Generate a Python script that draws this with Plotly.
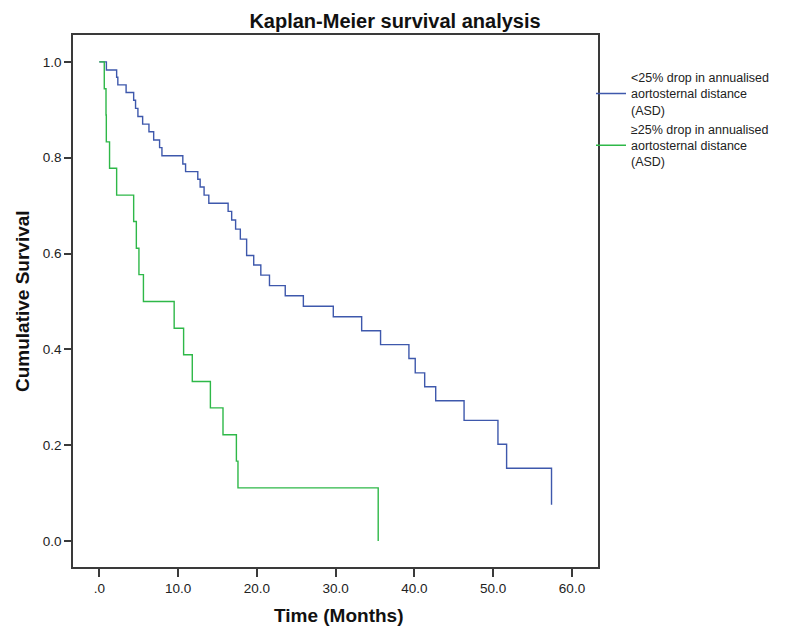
import plotly.graph_objects as go

# ---- data ----
blue_name = "&lt;25% drop in annualised<br>aortosternal distance<br>(ASD)"
green_name = "≥25% drop in annualised<br>aortosternal distance<br>(ASD)"

blue_time = [0, 0.9, 2.2, 2.35, 3.4, 4.36, 4.6, 4.9, 5.5, 6.3,
             6.9, 7.65, 7.95, 10.6, 10.95, 12.5, 12.8, 13.3, 13.9, 16.35,
             16.8, 17.3, 17.9, 18.7, 19.6, 20.5, 21.6, 23.6, 25.9, 29.7,
             33.3, 35.7, 39.3, 40.1, 41.3, 42.7, 46.3, 50.6, 51.7, 57.4]
blue_surv = [1.0, 0.983, 0.968, 0.952, 0.936, 0.920, 0.903, 0.886, 0.870, 0.854,
             0.837, 0.821, 0.804, 0.787, 0.771, 0.755, 0.739, 0.722, 0.705, 0.688,
             0.670, 0.651, 0.630, 0.596, 0.576, 0.555, 0.533, 0.512, 0.490, 0.468,
             0.439, 0.410, 0.381, 0.351, 0.322, 0.293, 0.252, 0.202, 0.152, 0.076]

green_time = [0, 0.63, 0.85, 0.89, 1.3, 2.2, 4.36, 4.7, 5.03, 5.6,
              9.5, 10.7, 11.8, 14.1, 15.7, 17.4, 17.6, 35.4]
green_surv = [1.0, 0.944, 0.889, 0.833, 0.778, 0.722, 0.667, 0.611, 0.556, 0.5,
              0.444, 0.389, 0.333, 0.278, 0.222, 0.167, 0.111, 0.0]

x_tickvals = [0, 10, 20, 30, 40, 50, 60]
x_ticktext = [".0", "10.0", "20.0", "30.0", "40.0", "50.0", "60.0"]
y_tickvals = [0.0, 0.2, 0.4, 0.6, 0.8, 1.0]
y_ticktext = ["0.0", "0.2", "0.4", "0.6", "0.8", "1.0"]

title_text = "Kaplan-Meier survival analysis"
x_title = "Time (Months)"
y_title = "Cumulative Survival"

# ---- figure ----
FONT = "Liberation Sans, Arial, sans-serif"
FRAME = "#3a3a3a"

fig = go.Figure()
fig.add_trace(go.Scatter(x=blue_time, y=blue_surv, mode="lines", name=blue_name,
                         line=dict(color="#3E58AC", width=1.4, shape="hv")))
fig.add_trace(go.Scatter(x=green_time, y=green_surv, mode="lines", name=green_name,
                         line=dict(color="#2EB848", width=1.4, shape="hv")))

fig.update_layout(
    width=800, height=640,
    margin=dict(l=73, r=202, t=35, b=73, autoexpand=False),
    paper_bgcolor="white", plot_bgcolor="white",
    font=dict(family=FONT, color="#222"),
    title=dict(text=title_text, xref="container", x=395/800, xanchor="center",
               yref="container", y=1-21/640, yanchor="middle",
               font=dict(size=20, weight="bold", color="#111", family=FONT)),
    showlegend=True,
    legend=dict(x=(591-73)/525, xanchor="left", y=0.948, yanchor="top",
                bgcolor="rgba(0,0,0,0)", borderwidth=0,
                font=dict(size=12.5, color="#222", family=FONT),
                itemwidth=30, valign="middle", tracegroupgap=0),
)

fig.update_xaxes(range=[-3.34, 63.3], tickvals=x_tickvals, ticktext=x_ticktext,
                 showgrid=False, zeroline=False,
                 showline=True, linecolor=FRAME, linewidth=1.6, mirror=True,
                 ticks="outside", ticklen=8, tickwidth=1.6, tickcolor=FRAME,
                 tickfont=dict(size=13.5, color="#222", family=FONT))
fig.update_yaxes(range=[-0.054, 1.056], tickvals=y_tickvals, ticktext=y_ticktext,
                 showgrid=False, zeroline=False,
                 showline=True, linecolor=FRAME, linewidth=1.6, mirror=True,
                 ticks="outside", ticklen=7, tickwidth=1.6, tickcolor=FRAME,
                 tickfont=dict(size=13.5, color="#222", family=FONT))

fig.add_annotation(text=x_title, xref="paper", yref="paper", x=0.505, y=(567-615)/532,
                   xanchor="center", yanchor="middle", showarrow=False,
                   font=dict(size=19, weight="bold", color="#111", family=FONT))
fig.add_annotation(text=y_title, xref="paper", yref="paper", x=(22-73)/525, y=0.5,
                   xanchor="center", yanchor="middle", showarrow=False, textangle=-90,
                   font=dict(size=19, weight="bold", color="#111", family=FONT))

fig.write_html("out.html", config={"displayModeBar": False},
               post_script="document.body.style.margin='0';")
